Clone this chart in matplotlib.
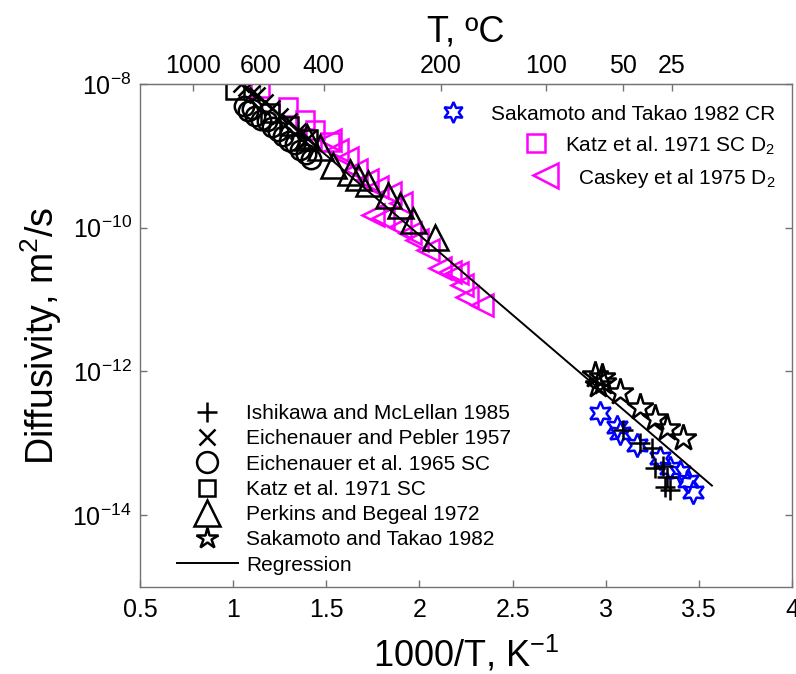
"""
Hydrogen diffusivity vs inverse temperature (Arrhenius plot) with
literature data and a regression line.
"""

import numpy as np
import matplotlib.pyplot as plt
from matplotlib.lines import Line2D

plt.rcParams["font.family"] = ["Liberation Sans", "DejaVu Sans"]
plt.rcParams["mathtext.fontset"] = "custom"
plt.rcParams["mathtext.rm"] = "Liberation Sans"
plt.rcParams["mathtext.it"] = "Liberation Sans:italic"
plt.rcParams["mathtext.bf"] = "Liberation Sans:bold"

# ---------------------------------------------------------------------------
# Data: x = 1000/T (1/K), values stored as log10(D) with D in m^2/s
# ---------------------------------------------------------------------------
ishikawa_x = [3.093, 3.184, 3.248, 3.264, 3.307, 3.329, 3.318, 3.345]
ishikawa_logd = [-12.82, -13.00, -13.06, -13.35, -13.31, -13.47, -13.61, -13.65]

pebler_x = [1.04, 1.07, 1.10, 1.13, 1.17, 1.21, 1.25, 1.30, 1.35, 1.40]
pebler_logd = [-8.00, -8.05, -8.12, -8.15, -8.25, -8.33, -8.45, -8.52, -8.65, -8.75]

eich65_x = [1.06, 1.08, 1.10, 1.12, 1.15, 1.18, 1.21, 1.24, 1.27, 1.30, 1.33, 1.36, 1.39, 1.42]
eich65_logd = [-8.30, -8.38, -8.35, -8.45, -8.50, -8.52, -8.60, -8.66, -8.72, -8.80, -8.84, -8.92, -8.98, -9.05]

katz_x = [1.01, 1.20, 1.30, 1.40]
katz_logd = [-8.08, -8.40, -8.58, -8.76]

katz_d2_x = [1.144, 1.294, 1.386, 1.44, 1.52]
katz_d2_logd = [-8.06, -8.32, -8.50, -8.64, -8.81]

perkins_x = [1.396, 1.466, 1.536, 1.627, 1.670, 1.724, 1.831, 1.896, 1.965, 2.083]
perkins_logd = [-8.74, -8.88, -9.13, -9.23, -9.30, -9.38, -9.55, -9.69, -9.89, -10.13]

caskey_x = [1.52, 1.56, 1.61, 1.66, 1.72, 1.77, 1.84, 1.90, 1.751, 1.804, 1.896, 1.949,
            1.987, 2.046, 2.110, 2.164, 2.202, 2.228, 2.255, 2.336]
caskey_logd = [-8.78, -8.92, -9.03, -9.20, -9.34, -9.43, -9.52, -9.66, -9.82, -9.87, -9.99, -10.08,
               -10.17, -10.31, -10.56, -10.62, -10.63, -10.80, -10.97, -11.08]

sakamoto_x = [2.942, 2.980, 2.985, 2.958, 3.077, 3.184, 3.264, 3.329, 3.415]
sakamoto_logd = [-12.05, -12.08, -12.15, -12.19, -12.29, -12.50, -12.65, -12.79, -12.93]

sakamoto_cr_x = [2.969, 3.060, 3.077, 3.168, 3.291, 3.345, 3.399, 3.441, 3.468]
sakamoto_cr_logd = [-12.58, -12.78, -12.85, -13.03, -13.21, -13.35, -13.40, -13.52, -13.68]

# regression: log10(D) = reg_a + reg_b * (1000/T)
reg_a = -5.663
reg_b = -2.220
reg_range = [1.0, 3.57]

celsius_ticks = [1000, 600, 400, 200, 100, 50, 25]
y_ticks_exp = [-8, -10, -12, -14]


def D(logd):
    return 10.0 ** np.asarray(logd)


fig = plt.figure(figsize=(7.96, 6.74), dpi=100)
ax = fig.add_axes([140 / 796, 1 - 587 / 674, 652 / 796, 503 / 674])

mew = 1.8
ax.plot(sakamoto_cr_x, D(sakamoto_cr_logd), ls="none", marker=(6, 1, 0), ms=17,
        mfc="none", mec="#0000ff", mew=mew)
ax.plot(caskey_x, D(caskey_logd), ls="none", marker="<", ms=16,
        mfc="none", mec="#ff00ff", mew=mew)
ax.plot(katz_d2_x, D(katz_d2_logd), ls="none", marker="s", ms=13,
        mfc="none", mec="#ff00ff", mew=mew)
ax.plot(ishikawa_x, D(ishikawa_logd), ls="none", marker="+", ms=14, mec="k", mew=mew)
ax.plot(pebler_x, D(pebler_logd), ls="none", marker="x", ms=11, mec="k", mew=mew)
ax.plot(eich65_x, D(eich65_logd), ls="none", marker="o", ms=14, mfc="none", mec="k", mew=mew)
ax.plot(katz_x, D(katz_logd), ls="none", marker="s", ms=13, mfc="none", mec="k", mew=mew)
ax.plot(perkins_x, D(perkins_logd), ls="none", marker="^", ms=18, mfc="none", mec="k", mew=mew)
ax.plot(sakamoto_x, D(sakamoto_logd), ls="none", marker="*", ms=20, mfc="none", mec="k", mew=mew)

reg_x = np.linspace(reg_range[0], reg_range[1], 50)
ax.plot(reg_x, 10.0 ** (reg_a + reg_b * reg_x), color="k", lw=1.4)

ax.set_yscale("log")
ax.set_xlim(0.5, 4)
ax.set_ylim(1e-15, 1e-8)
ax.set_xticks([0.5, 1, 1.5, 2, 2.5, 3, 3.5, 4])
ax.set_xticklabels(["0.5", "1", "1.5", "2", "2.5", "3", "3.5", "4"])
ax.set_yticks([10.0 ** e for e in y_ticks_exp])
ax.set_yticklabels([r"$10^{%d}$" % e for e in y_ticks_exp])
ax.yaxis.set_minor_locator(plt.NullLocator())

spine_col = "0.45"
for s in ax.spines.values():
    s.set_color(spine_col)
    s.set_linewidth(1.0)
ax.tick_params(axis="both", which="major", direction="in", length=5, width=1.0,
               color=spine_col, labelsize=18, labelcolor="k", pad=8)
ax.tick_params(axis="y", right=True, pad=6)

ax.set_xlabel(r"1000/T, K$^{-1}$", fontsize=26, labelpad=9)
ax.set_ylabel(r"Diffusivity, m$^2$/s", fontsize=27, labelpad=6)

# top axis in degrees Celsius
secax = ax.secondary_xaxis("top")
secax.set_xticks([1000.0 / (t + 273.15) for t in celsius_ticks])
secax.set_xticklabels([str(t) for t in celsius_ticks])
secax.tick_params(direction="in", length=5, width=1.0, color=spine_col,
                  labelsize=18, pad=4)
secax.spines["top"].set_color(spine_col)
secax.set_xlabel("T, \u00baC", fontsize=26, labelpad=9)

# lower-left legend
handles = [
    Line2D([], [], ls="none", marker="+", ms=14, mec="k", mew=mew),
    Line2D([], [], ls="none", marker="x", ms=11, mec="k", mew=mew),
    Line2D([], [], ls="none", marker="o", ms=15, mfc="none", mec="k", mew=mew),
    Line2D([], [], ls="none", marker="s", ms=12, mfc="none", mec="k", mew=mew),
    Line2D([], [], ls="none", marker="^", ms=19, mfc="none", mec="k", mew=mew),
    Line2D([], [], ls="none", marker="*", ms=16, mfc="none", mec="k", mew=mew),
    Line2D([], [], color="k", lw=1.4),
]
labels = [
    "Ishikawa and McLellan 1985",
    "Eichenauer and Pebler 1957",
    "Eichenauer et al. 1965 SC",
    "Katz et al. 1971 SC",
    "Perkins and Begeal 1972",
    "Sakamoto and Takao 1982",
    "Regression",
]
ax.legend(handles, labels, loc="lower left", bbox_to_anchor=(0.041, 0.004),
          frameon=False, fontsize=15, labelspacing=0.3, handlelength=2.9,
          handletextpad=0.4, borderpad=0.0)

# upper-right legend (MATLAB style, right-aligned text)
ur_items = [
    ((6, 1, 0), "#0000ff", 15, "Sakamoto and Takao 1982 CR", 0.480, 0.944),
    ("s", "#ff00ff", 13, r"Katz et al. 1971 SC D$_2$", 0.607, 0.883),
    ("<", "#ff00ff", 18, r"Caskey et al 1975 D$_2$", 0.621, 0.819),
]
for mk, col, ms, txt, mx, my in ur_items:
    ax.plot([mx], [my], transform=ax.transAxes, ls="none", marker=mk, ms=ms,
            mfc="none", mec=col, mew=mew, clip_on=False)
    ax.text(0.975, my, txt, transform=ax.transAxes, ha="right", va="center_baseline",
            fontsize=15)

plt.savefig("out.png", dpi=100)
plt.close()
